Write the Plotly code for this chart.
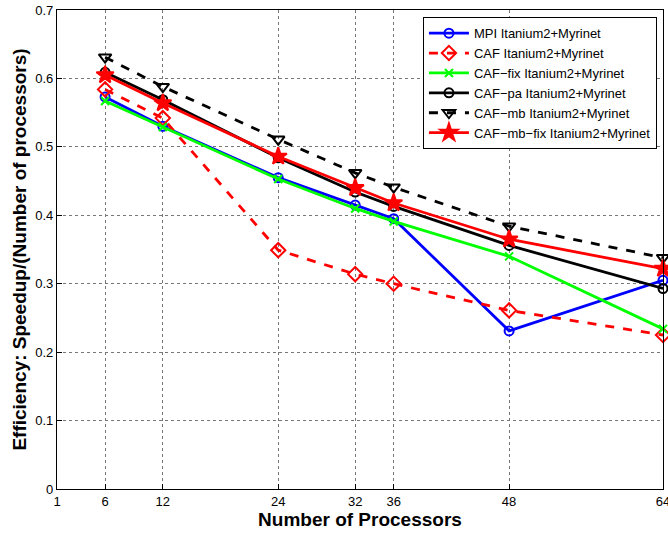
import plotly.graph_objects as go

procs = [6, 12, 24, 32, 36, 48, 64]
mpi = [0.573, 0.530, 0.455, 0.415, 0.395, 0.231, 0.305]
caf = [0.584, 0.542, 0.349, 0.314, 0.300, 0.261, 0.225]
caf_fix = [0.567, 0.529, 0.453, 0.410, 0.391, 0.340, 0.234]
caf_pa = [0.609, 0.569, 0.484, 0.434, 0.413, 0.356, 0.293]
caf_mb = [0.631, 0.588, 0.511, 0.462, 0.441, 0.384, 0.338]
caf_mb_fix = [0.605, 0.564, 0.486, 0.440, 0.418, 0.365, 0.322]

x_ticks = [1, 6, 12, 24, 32, 36, 48, 64]
y_ticks = [0, 0.1, 0.2, 0.3, 0.4, 0.5, 0.6, 0.7]
y_tick_text = ["0", "0.1", "0.2", "0.3", "0.4", "0.5", "0.6", "0.7"]

series = [
    ("MPI Itanium2+Myrinet", mpi, "blue", "solid", "circle-open", 9),
    ("CAF Itanium2+Myrinet", caf, "red", "dash", "diamond-open", 11),
    ("CAF\u2212fix Itanium2+Myrinet", caf_fix, "#00ff00", "solid", "x-thin-open", 8),
    ("CAF\u2212pa Itanium2+Myrinet", caf_pa, "black", "solid", "circle-open", 9),
    ("CAF\u2212mb Itanium2+Myrinet", caf_mb, "black", "dash", "triangle-down-open", 11),
    ("CAF\u2212mb\u2212fix Itanium2+Myrinet", caf_mb_fix, "red", "solid", "star", 13),
]

fig = go.Figure()
for name, vals, color, dash, sym, size in series:
    fig.add_trace(go.Scatter(
        x=procs, y=vals, name=name, mode="lines+markers", cliponaxis=False,
        line=dict(color=color, width=2.8, dash=dash),
        marker=dict(symbol=sym, size=size, color=color,
                    line=dict(color=color, width=2)),
    ))

axis_common = dict(
    showline=True, mirror=True, linecolor="black", linewidth=1.3,
    ticks="inside", ticklen=5, tickcolor="black",
    showgrid=True, gridcolor="#777777", griddash="dot", gridwidth=1,
    zeroline=False, tickfont=dict(size=13, color="black"),
    ticklabeloverflow="allow", automargin=False,
)

fig.update_layout(
    width=668, height=533,
    margin=dict(l=57, r=5, t=10, b=44),
    paper_bgcolor="white", plot_bgcolor="white",
    font=dict(family="Liberation Sans, Arial, sans-serif", color="black"),
    xaxis=dict(range=[1, 64], tickvals=x_ticks,
               title=dict(text="<b>Number of Processors</b>", font=dict(size=19), standoff=1),
               **axis_common),
    yaxis=dict(range=[0, 0.7], tickvals=y_ticks, ticktext=y_tick_text,
               title=dict(text="<b>Efficiency: Speedup/(Number of processors)</b>", font=dict(size=19), standoff=3),
               **axis_common),
    legend=dict(x=0.990, y=0.985, xanchor="right", yanchor="top",
                bgcolor="white", bordercolor="black", borderwidth=1,
                font=dict(size=13), tracegroupgap=0, itemwidth=40),
    showlegend=True,
)

fig.write_html("out.html", config={"displayModeBar": False},
               post_script="document.body.style.margin='0';document.body.style.overflow='hidden';")
